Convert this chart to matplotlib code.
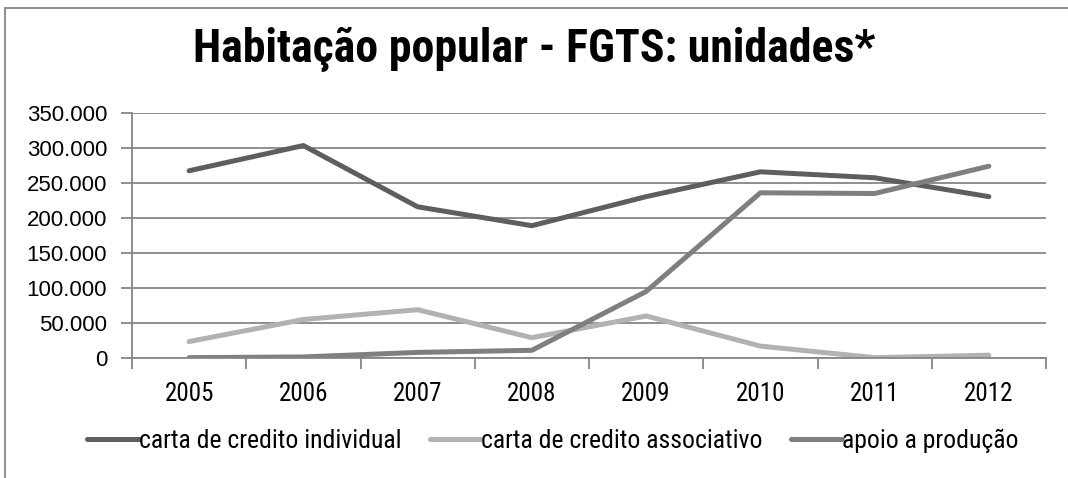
import matplotlib.pyplot as plt
from matplotlib.ticker import FuncFormatter, FixedLocator
from matplotlib.patches import Rectangle

anos = ['2005', '2006', '2007', '2008', '2009', '2010', '2011', '2012']
credito_individual = [267500, 303500, 216000, 189000, 230500, 266000, 257500, 230500]
credito_associativo = [23500, 55000, 69000, 29000, 60000, 17000, 500, 4000]
apoio_producao = [500, 1500, 8000, 11000, 95000, 236000, 235000, 274000]

nomes = ['carta de credito individual', 'carta de credito associativo', 'apoio a produção']
cores = ['#5e5e5e', '#b2b2b2', '#7f7f7f']

narrow = ['Roboto Condensed', 'DejaVu Sans']
plt.rcParams['font.family'] = ['Liberation Sans', 'DejaVu Sans']

fig = plt.figure(figsize=(10.68, 4.78), dpi=100)
ax = fig.add_axes([132 / 1068, 1 - 358 / 478, 914 / 1068, 245 / 478])

x = list(range(len(anos)))
for serie, nome, cor in zip([credito_individual, credito_associativo, apoio_producao], nomes, cores):
    ax.plot(x, serie, color=cor, linewidth=3.6, label=nome, solid_capstyle='round')

ax.set_xlim(-0.5, 7.5)
ax.set_ylim(0, 350000)
ax.set_yticks(range(0, 350001, 50000))
ax.yaxis.set_major_formatter(FuncFormatter(lambda v, p: f'{int(v):,}'.replace(',', '.')))
ax.grid(axis='y', color='#868686', linewidth=1.3)
ax.set_axisbelow(True)

# ticks nas fronteiras das categorias, rotulos no centro
ax.xaxis.set_major_locator(FixedLocator([i - 0.5 for i in range(len(anos) + 1)]))
ax.xaxis.set_major_formatter(FuncFormatter(lambda v, p: ''))
ax.xaxis.set_minor_locator(FixedLocator(x))
ax.set_xticklabels(anos, minor=True, fontfamily=narrow, fontsize=18)
ax.tick_params(axis='x', which='major', length=8, width=1.3, color='#868686')
ax.tick_params(axis='x', which='minor', length=0, pad=17)
ax.tick_params(axis='y', length=8, width=1.3, color='#868686', labelsize=16, pad=10)

for lado in ['top', 'right']:
    ax.spines[lado].set_visible(False)
for lado in ['left', 'bottom']:
    ax.spines[lado].set_color('#868686')
    ax.spines[lado].set_linewidth(1.3)

fig.text(0.5, 1 - 50 / 478, 'Habitação popular - FGTS: unidades*', ha='center', va='center',
         fontfamily=narrow, fontweight='bold', fontsize=33)

ax.legend(loc='center', bbox_to_anchor=(553 / 1068, 1 - 441 / 478), bbox_transform=fig.transFigure,
          ncol=3, frameon=False, prop={'family': narrow, 'size': 18.5},
          handlelength=2.0, handletextpad=0.0, columnspacing=1.1)

# borda externa do grafico
fig.patches.append(Rectangle((5 / 1068, -0.1), 1.2, 1 - 8 / 478 + 0.1, transform=fig.transFigure,
                             fill=False, edgecolor='#868686', linewidth=1.3))

fig.savefig('out.png', dpi=100)
